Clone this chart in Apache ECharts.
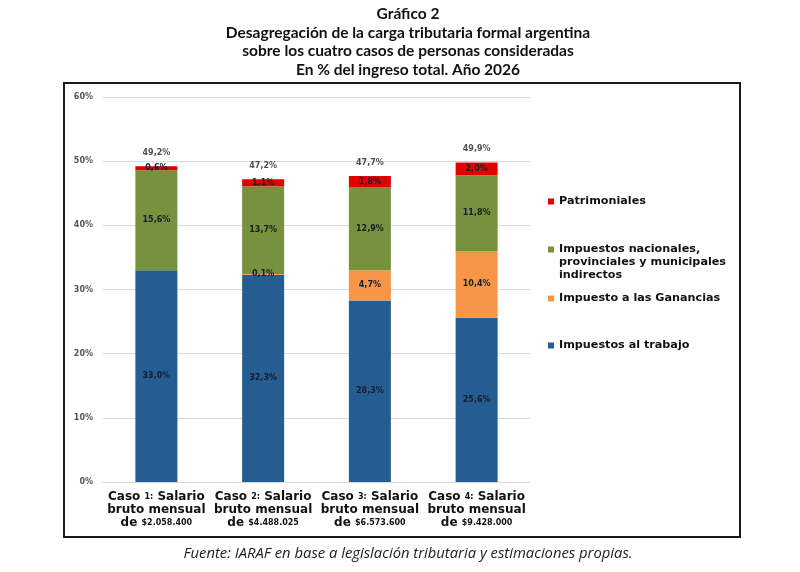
<!DOCTYPE html>
<html>
<head>
<meta charset="utf-8">
<title>Gráfico 2</title>
<script src="https://cdn.jsdelivr.net/npm/echarts@6/dist/echarts.min.js"></script>
<style>
  html, body { margin: 0; padding: 0; background: #fff; }
  #chart { width: 800px; height: 572px; }
</style>
</head>
<body>
<div id="chart"></div>
<script>
// datos (% del ingreso total)
var casos = ['1', '2', '3', '4']
var salarios = ['$2.058.400', '$4.488.025', '$6.573.600', '$9.428.000']
var trabajo = [33.0, 32.3, 28.3, 25.6]
var ganancias = [0, 0.1, 4.7, 10.4]
var indirectos = [15.6, 13.7, 12.9, 11.8]
var patrimoniales = [0.6, 1.1, 1.8, 2.0]
var totales = [49.2, 47.2, 47.7, 49.9]
var yTicks = [0, 10, 20, 30, 40, 50, 60]

var nombres = {
  trabajo: 'Impuestos al trabajo',
  ganancias: 'Impuesto a las Ganancias',
  indirectos: 'Impuestos nacionales, provinciales y municipales indirectos',
  patrimoniales: 'Patrimoniales'
}
var colores = {
  trabajo: '#245d92',
  ganancias: '#f79646',
  indirectos: '#76923c',
  patrimoniales: '#e00000'
}

var fuente = 'DejaVu Sans'
function pct (v) {
  return v.toFixed(1).replace('.', ',') + '%'
}

var chart = echarts.init(document.getElementById('chart'))

function serie (key, data) {
  return {
    name: nombres[key],
    type: 'bar',
    stack: 'total',
    barWidth: 42,
    data: data,
    itemStyle: { color: colores[key] },
    label: {
      show: true,
      position: 'inside',
      fontFamily: fuente,
      fontSize: 8,
      fontWeight: 'bold',
      color: '#1b1b2b',
      formatter: function (p) { return p.value ? pct(p.value) : '' }
    }
  }
}

function leyenda (key, top, extra) {
  return Object.assign({
    data: [nombres[key]],
    left: 543,
    top: top,
    orient: 'vertical',
    icon: 'rect',
    itemWidth: 6,
    itemHeight: 6,
    selectedMode: false,
    textStyle: {
      fontFamily: fuente,
      fontSize: 11.2,
      fontWeight: 'bold',
      color: '#111',
      lineHeight: 13
    }
  }, extra || {})
}

chart.setOption({
  animation: false,
  backgroundColor: '#fff',
  title: [{
    text: 'Gráfico 2\nDesagregación de la carga tributaria formal argentina\nsobre los cuatro casos de personas consideradas\nEn % del ingreso total. Año 2026',
    left: 403,
    textAlign: 'center',
    top: 0,
    textStyle: {
      fontFamily: 'Lato',
      fontSize: 15.5,
      fontWeight: 'bold',
      color: '#111',
      lineHeight: 18.5
    }
  }, {
    text: 'Fuente: IARAF en base a legislación tributaria y estimaciones propias.',
    left: 403,
    textAlign: 'center',
    top: 541,
    textStyle: {
      fontFamily: 'Open Sans',
      fontSize: 14.8,
      fontStyle: 'italic',
      fontWeight: 'normal',
      color: '#222'
    }
  }],
  graphic: [{
    type: 'rect',
    shape: { x: 64, y: 83, width: 676, height: 454 },
    style: { fill: 'none', stroke: '#1a1a1a', lineWidth: 2 }
  }],
  legend: [
    leyenda('patrimoniales', 190),
    // dos lineas vacias arriba para que el icono quede en la primera linea
    leyenda('indirectos', 212, {
      formatter: function () {
        return ' \n \nImpuestos nacionales,\nprovinciales y municipales\nindirectos'
      }
    }),
    leyenda('ganancias', 287),
    leyenda('trabajo', 334)
  ],
  grid: { left: 103, right: 270, top: 97, bottom: 90 },
  xAxis: {
    type: 'category',
    data: casos,
    axisLine: { lineStyle: { color: '#d9d9d9' } },
    axisTick: { show: false },
    axisLabel: {
      interval: 0,
      margin: 8,
      lineHeight: 13,
      formatter: function (v, i) {
        return '{b|Caso }{s|' + v + ':}{b| Salario}\n{b|bruto mensual}\n{b|de }{m|' + salarios[i] + '}'
      },
      rich: {
        b: { fontFamily: fuente, fontSize: 12, fontWeight: 'bold', color: '#111', lineHeight: 13 },
        s: { fontFamily: fuente, fontSize: 8, fontWeight: 'bold', color: '#111', lineHeight: 13 },
        m: { fontFamily: fuente, fontSize: 8, fontWeight: 'bold', color: '#111', lineHeight: 13 }
      }
    }
  },
  yAxis: {
    type: 'value',
    min: yTicks[0],
    max: yTicks[yTicks.length - 1],
    interval: yTicks[1] - yTicks[0],
    axisLine: { show: false },
    axisTick: { show: false },
    splitLine: { lineStyle: { color: '#d9d9d9' } },
    axisLabel: {
      margin: 10,
      fontFamily: fuente,
      fontSize: 8,
      fontWeight: 'bold',
      color: '#555',
      formatter: '{value}%'
    }
  },
  series: [
    serie('trabajo', trabajo),
    serie('ganancias', ganancias),
    serie('indirectos', indirectos),
    serie('patrimoniales', patrimoniales),
    {
      name: 'Total',
      type: 'scatter',
      data: totales,
      symbolSize: 0,
      silent: true,
      label: {
        show: true,
        position: 'top',
        distance: 9,
        fontFamily: fuente,
        fontSize: 8,
        fontWeight: 'bold',
        color: '#222',
        formatter: function (p) { return pct(p.value) }
      }
    }
  ]
})
</script>
</body>
</html>
